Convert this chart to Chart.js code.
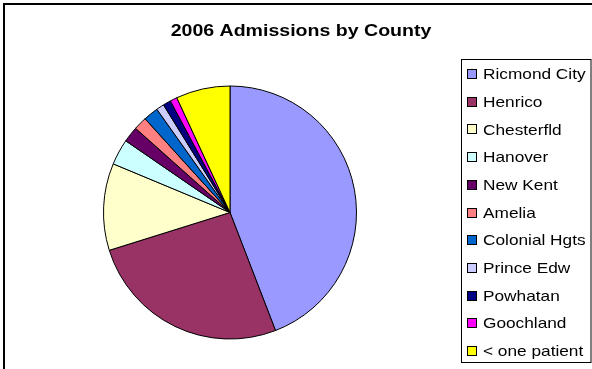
<!DOCTYPE html>
<html>
<head>
<meta charset="utf-8">
<style>
  html, body { margin: 0; padding: 0; background: #fff; }
  #wrap { position: relative; width: 592px; height: 369px; }
  canvas { display: block; }
</style>
<script src="https://cdn.jsdelivr.net/npm/chart.js@4"></script>
</head>
<body>
<div id="wrap"><canvas id="c" width="592" height="369"></canvas></div>
<script>
// 2006 admissions share by county (percent of total)
const counties = ['Ricmond City', 'Henrico', 'Chesterfld', 'Hanover', 'New Kent', 'Amelia',
                  'Colonial Hgts', 'Prince Edw', 'Powhatan', 'Goochland', '< one patient'];
const admissions = [44.1, 26.0, 11.1, 3.3, 2.0, 1.7, 1.9, 1.0, 1.0, 0.9, 6.9];
const sliceColors = ['#9999FF', '#993366', '#FFFFCC', '#CCFFFF', '#660066', '#FF8080',
                     '#0066CC', '#CCCCFF', '#000080', '#FF00FF', '#FFFF00'];
const chartTitle = '2006 Admissions by County';

// text in this sheet is set slightly wide
const TEXT_STRETCH = 1.15;

function wideText(ctx, text, x, y, align) {
  ctx.save();
  ctx.translate(x, y);
  ctx.scale(TEXT_STRETCH, 1);
  ctx.textAlign = align;
  ctx.fillText(text, 0, 0);
  ctx.restore();
}

// Frame, title and boxed legend drawn around the pie
const frameAndLegend = {
  id: 'frameAndLegend',
  afterDraw(chart) {
    const ctx = chart.ctx;
    ctx.save();
    // outer frame
    ctx.strokeStyle = '#000';
    ctx.lineWidth = 2;
    ctx.strokeRect(4, 4, 600, 380);

    // title
    ctx.fillStyle = '#000';
    ctx.font = 'bold 17px "Liberation Sans", Arial, sans-serif';
    ctx.textBaseline = 'alphabetic';
    wideText(ctx, chartTitle, 301, 36, 'center');

    // legend box
    ctx.lineWidth = 1;
    ctx.strokeStyle = '#000';
    ctx.strokeRect(461.5, 59.5, 129.5, 303);

    const items = chart.legend.legendItems;
    ctx.font = '15px "Liberation Sans", Arial, sans-serif';
    ctx.textBaseline = 'middle';
    items.forEach((it, i) => {
      const y = 74 + i * 27.7;
      ctx.fillStyle = it.fillStyle;
      ctx.fillRect(467.5, Math.round(y) - 4.5, 9, 9);
      ctx.strokeStyle = '#000';
      ctx.strokeRect(467.5, Math.round(y) - 4.5, 9, 9);
      ctx.fillStyle = '#000';
      wideText(ctx, it.text, 483, y + 1, 'left');
    });
    ctx.restore();
  }
};

new Chart(document.getElementById('c'), {
  type: 'pie',
  data: {
    labels: counties,
    datasets: [{
      data: admissions,
      backgroundColor: sliceColors,
      borderColor: '#000',
      borderWidth: 1
    }]
  },
  options: {
    responsive: false,
    animation: false,
    layout: { padding: { left: 103, right: 235, top: 85, bottom: 29 } },
    plugins: {
      legend: { display: false },
      title: { display: false },
      tooltip: { enabled: false }
    }
  },
  plugins: [frameAndLegend]
});
</script>
</body>
</html>
